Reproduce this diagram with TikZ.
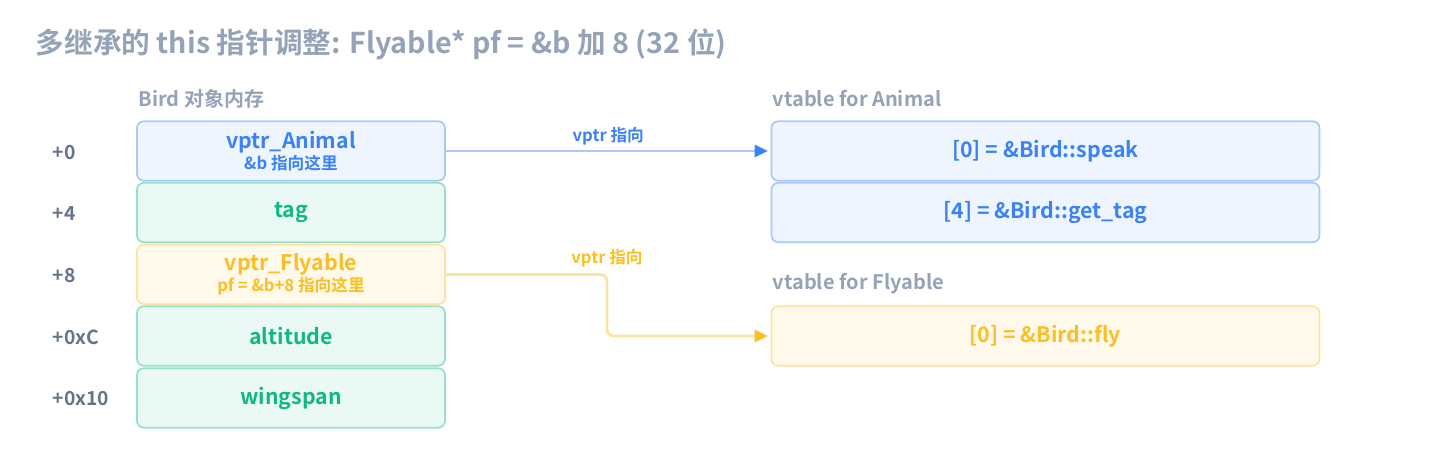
\documentclass[tikz,border=0pt]{standalone}
\usepackage{fontspec}
\setmainfont{Noto Sans CJK SC}[BoldFont={* Bold}]
\usepackage{tikz}
\usetikzlibrary{arrows.meta, positioning, calc}
\definecolor{blueT}{HTML}{3B82F6}
\definecolor{blueB}{HTML}{A9C8FB}
\definecolor{blueF}{HTML}{EFF5FE}
\definecolor{greenT}{HTML}{10B981}
\definecolor{greenB}{HTML}{95E2C6}
\definecolor{greenF}{HTML}{EAF9F3}
\definecolor{yellowT}{HTML}{FBBF24}
\definecolor{yellowB}{HTML}{FCE3A0}
\definecolor{yellowF}{HTML}{FFF9EC}
\definecolor{greyT}{HTML}{94A3B8}
\definecolor{offT}{HTML}{64748B}
\newcommand{\subtxtfont}{\bfseries\fontsize{12.5}{14}\selectfont}
\tikzset{
  cell/.style={rectangle, rounded corners=5pt, line width=1.3pt,
               minimum width=231pt, minimum height=44.5pt,
               align=center, font=\bfseries\fontsize{16}{18}\selectfont},
  blueC/.style={cell, draw=blueB, fill=blueF, text=blueT},
  greenC/.style={cell, draw=greenB, fill=greenF, text=greenT},
  yellowC/.style={cell, draw=yellowB, fill=yellowF, text=yellowT},
  wideC/.style={minimum width=411pt},
  subtxt/.style={font=\subtxtfont},
  offset/.style={anchor=west, text=offT, font=\bfseries\fontsize{14.5}{16}\selectfont},
  heading/.style={anchor=west, text=greyT, font=\bfseries\fontsize{15}{17}\selectfont},
  blueArrow/.style={draw=blueB, line width=2pt,
                    -{Triangle[length=10pt, width=9pt, color=blueT]}},
  yellowArrow/.style={draw=yellowB, line width=2pt, rounded corners=5pt,
                      -{Triangle[length=10pt, width=9pt, color=yellowT]}},
}
\begin{document}
\begin{tikzpicture}[x=0.75pt, y=-0.75pt]
    \useasboundingbox (0,0) rectangle (1440,463);
    %% title
    \node[anchor=west, text=greyT, font=\bfseries\fontsize{21.5}{24}\selectfont]
      (title) at (31,44) {多继承的 this 指针调整: Flyable* pf = \&b 加 8 (32 位)};
    %% Bird object layout
    \node[heading] (birdH) at (134,99) {Bird 对象内存};
    \node[blueC] (vA) at (291,151)
      {vptr\_Animal\\[-2pt]{\subtxtfont\&b 指向这里}};
    \node[greenC] (tag) at (291,212.5) {tag};
    \node[yellowC] (vF) at (291,274.5)
      {vptr\_Flyable\\[-2pt]{\subtxtfont pf = \&b+8 指向这里}};
    \node[greenC] (alt) at (291,336) {altitude};
    \node[greenC] (wing) at (291,398) {wingspan};
    %% offsets
    \foreach \y/\txt/\name in {153/+0/o0, 214/+4/o4, 276/+8/o8,
                               337/+0xC/oC, 399/+0x10/o10}{
      \node[offset] (\name) at (48,\y) {\txt};
    }
    %% vtables
    \node[heading] (vtA) at (768,99) {vtable for Animal};
    \node[blueC, wideC] (speak) at (1045.5,151) {[0] = \&Bird::speak};
    \node[blueC, wideC] (gettag) at (1045.5,212.5) {[4] = \&Bird::get\_tag};
    \node[heading] (vtF) at (768,284) {vtable for Flyable};
    \node[yellowC, wideC] (fly) at (1045.5,336) {[0] = \&Bird::fly};
    %% pointers
    \draw[blueArrow, shorten >=2pt] (vA.east) -- (speak.west)
      node[midway, above=0pt, text=blueT, subtxt] (lblA) {vptr 指向};
    \coordinate (bend) at (607,274.5);
    \draw[yellowArrow, shorten >=2pt] (vF.east) -- (bend) |- (fly.west);
    \node[above=2pt, text=yellowT, subtxt] (lblF) at (bend) {vptr 指向};
\end{tikzpicture}
\end{document}
